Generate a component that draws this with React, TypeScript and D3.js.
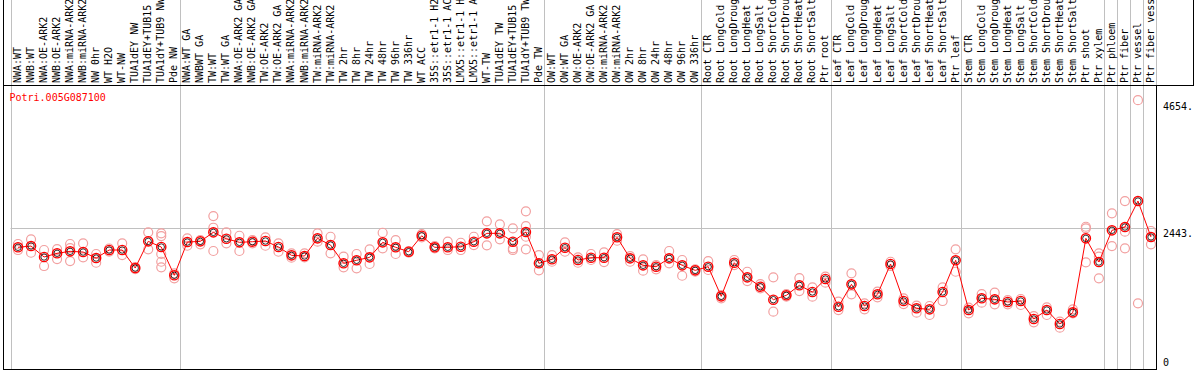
import React from "react";
import * as d3 from "d3";

const TITLE = "Potri.005G087100";

const samples: string[] = [
  "NWA:WT", "NWB:WT", "NWA:OE-ARK2", "NWB:OE-ARK2", "NWA:miRNA-ARK2", "NWB:miRNA-ARK2",
  "NW 0hr", "WT H2O", "WT-NW", "TUA1dEY NW", "TUA1dEY+TUB15 NW", "TUA1dY+TUB9 NW", "Pde NW",
  "NWA:WT GA", "NWBWT GA", "TW:WT", "TW:WT GA", "NWA:OE-ARK2 GA", "NWB:OE-ARK2 GA",
  "TW:OE-ARK2", "TW:OE-ARK2 GA", "NWA:miRNA-ARK2 GA", "NWB:miRNA-ARK2 GA", "TW:miRNA-ARK2",
  "TW:miRNA-ARK2 GA", "TW 2hr", "TW 8hr", "TW 24hr", "TW 48hr", "TW 96hr", "TW 336hr",
  "WT ACC", "35S::etr1-1 H2O", "35S::etr1-1 ACC", "LMX5::etr1-1 H2O", "LMX5::etr1-1 ACC",
  "WT-TW", "TUA1dEY TW", "TUA1dEY+TUB15 TW", "TUA1dY+TUB9 TW", "Pde TW",
  "OW:WT", "OW:WT GA", "OW:OE-ARK2", "OW:OE-ARK2 GA", "OW:miRNA-ARK2", "OW:miRNA-ARK2 GA",
  "OW 2hr", "OW 8hr", "OW 24hr", "OW 48hr", "OW 96hr", "OW 336hr",
  "Root CTR", "Root LongCold", "Root LongDrought", "Root LongHeat", "Root LongSalt",
  "Root ShortCold", "Root ShortDrought", "Root ShortHeat", "Root ShortSalt", "Ptr root",
  "Leaf CTR", "Leaf LongCold", "Leaf LongDrought", "Leaf LongHeat", "Leaf LongSalt",
  "Leaf ShortCold", "Leaf ShortDrought", "Leaf ShortHeat", "Leaf ShortSalt", "Ptr leaf",
  "Stem CTR", "Stem LongCold", "Stem LongDrought", "Stem LongHeat", "Stem LongSalt",
  "Stem ShortCold", "Stem ShortDrought", "Stem ShortHeat", "Stem ShortSalt", "Ptr shoot",
  "Ptr xylem", "Ptr phloem", "Ptr fiber", "Ptr vessel", "Ptr fiber vessel",
];

const means: number[] = [
  2107, 2129, 1939, 2003, 2037, 2025, 1921, 2060, 2060, 1748, 2210, 2112, 1622,
  2198, 2210, 2366, 2255, 2193, 2204, 2216, 2112, 1968, 1956, 2262, 2146, 1830, 1882,
  1933, 2193, 2107, 2030, 2307, 2107, 2107, 2117, 2204, 2349, 2349, 2204, 2371, 1830,
  1899, 2100, 1887, 1927, 1927, 2280, 1916, 1795, 1771, 1916, 1795, 1708,
  1771, 1258, 1840, 1587, 1425, 1200, 1276, 1449, 1333, 1558,
  1078, 1466, 1091, 1293, 1818, 1177, 1051, 1033, 1333, 1882,
  1021, 1224, 1206, 1160, 1177, 866, 1021, 779, 981, 2262, 1852,
  2401, 2458, 2908, 2285,
];

const replicates: number[][] = [
  [2164, 2060], [2245, 2013], [2060, 1783], [2077, 1904], [2164, 1869, 2094], [2176, 1933],
  [1991, 1840], [2086, 2034], [2176, 1973], [1766, 1731], [2366, 2072],
  [2349, 2302, 1991, 1857, 1760], [1657, 1570],
  [2262, 2134], [2233, 2158], [2648, 2446, 2043], [2366, 2176], [2307, 2043], [2233, 2176],
  [2280, 2134], [2176, 2030], [2003, 1927], [2003, 1933], [2349, 2204], [2290, 2003],
  [1944, 1760], [1991, 1743], [2072, 1818], [2359, 2089], [2233, 1991], [2043, 2013],
  [2337, 2280], [2129, 2089], [2204, 2060], [2186, 2060], [2290, 2146], [2557, 2141],
  [2505, 2245], [2436, 2089, 2060], [2730, 2475, 2290, 2072], [1973, 1708],
  [1973, 1857], [2193, 2030], [1933, 1840], [1991, 1887], [2020, 1852], [2337, 2221],
  [1956, 1857], [1899, 1702], [1800, 1726], [2043, 1830], [1887, 1615], [1726, 1684],
  [1869, 1714], [1281, 1224], [1887, 1800], [1684, 1523], [1471, 1397], [1587, 992],
  [1298, 1252], [1575, 1350], [1414, 1252], [1598, 1494],
  [1165, 1021], [1657, 1293], [1137, 1033], [1338, 1241], [1857, 1783], [1224, 1125],
  [1096, 975], [1091, 935], [1414, 1177], [2072, 1684],
  [1061, 964], [1298, 1148], [1321, 1120], [1194, 1120], [1212, 1108], [917, 808],
  [1068, 935], [819, 715], [1033, 964], [2463, 2436, 1847], [2003, 1944, 1570],
  [2695, 2129], [2908, 2377, 2089], [4654, 1137], [2389, 2159],
];

// group boundaries (column index where a separator line is drawn)
const separators: number[] = [0, 13, 41, 53, 63, 73, 84, 85, 86, 87];

const yTicks: number[] = [4654, 2443, 0];
const gridValues: number[] = [2443];

const W = 1194;
const H = 370;
const LEFT = 10.5;
const RIGHT = 1156.5;
const HEADER_BOTTOM = 85.5;
const PLOT_BOTTOM = 369;
const FONT = "'DejaVu Sans Mono', monospace";

export default function App() {
  const idx = samples.map((_, i) => i);
  const x = d3.scaleBand<number>().domain(idx).range([LEFT, RIGHT]).padding(0);
  const bw = x.bandwidth();
  const cx = (i: number) => (x(i) as number) + bw / 2 + 1;
  const y = d3.scaleLinear().domain([0, 4900]).range([PLOT_BOTTOM, 86]);

  const line = d3
    .line<number>()
    .x((_, i) => cx(i))
    .y((d) => y(d));

  const sepX = (k: number) => (k >= samples.length ? RIGHT : (x(k) as number));

  return (
    <svg
      width={W}
      height={H}
      style={{ position: "absolute", left: 0, top: 0, background: "#fff" }}
    >
      <rect x={0} y={0} width={W} height={H} fill="#fff" />
      {separators.map((k) => (
        <line
          key={"s" + k}
          x1={Math.round(sepX(k)) + 0.5}
          x2={Math.round(sepX(k)) + 0.5}
          y1={0}
          y2={PLOT_BOTTOM}
          stroke="#c0c0c0"
          strokeWidth={1}
        />
      ))}
      <line x1={1156.5} x2={1156.5} y1={0} y2={HEADER_BOTTOM} stroke="#c0c0c0" />
      {gridValues.map((v) => (
        <line
          key={"g" + v}
          x1={LEFT}
          x2={RIGHT}
          y1={Math.round(y(v)) + 0.5}
          y2={Math.round(y(v)) + 0.5}
          stroke="#c0c0c0"
        />
      ))}
      <line x1={3.5} x2={3.5} y1={0} y2={PLOT_BOTTOM + 0.5} stroke="#000" />
      <line x1={3} x2={1194} y1={HEADER_BOTTOM} y2={HEADER_BOTTOM} stroke="#000" />
      <line x1={1193.5} x2={1193.5} y1={0} y2={HEADER_BOTTOM} stroke="#000" />
      <line x1={RIGHT} x2={RIGHT} y1={HEADER_BOTTOM} y2={PLOT_BOTTOM + 0.5} stroke="#000" />
      <line x1={3} x2={RIGHT + 0.5} y1={PLOT_BOTTOM + 0.5} y2={PLOT_BOTTOM + 0.5} stroke="#000" />

      {samples.map((s, i) => (
        <text
          key={"l" + i}
          transform={`translate(${(x(i) as number) + bw / 2 + 4},83) rotate(-90)`}
          fontFamily={FONT}
          fontSize={10}
          fill="#000"
        >
          {s}
        </text>
      ))}

      <text x={9.5} y={101} fontFamily={FONT} fontSize={10} fill="#ff0000">
        {TITLE}
      </text>

      {yTicks.map((v) => (
        <text
          key={"t" + v}
          x={1163}
          y={Math.min(y(v) + 9.5, 366)}
          fontFamily={FONT}
          fontSize={10}
          fill="#000"
        >
          {v === 0 ? "0" : v + "."}
        </text>
      ))}

      {replicates.map((reps, i) =>
        reps.map((v, j) => (
          <circle
            key={`r${i}-${j}`}
            cx={cx(i)}
            cy={y(v)}
            r={4.5}
            fill="none"
            stroke="#f2a0a0"
            strokeWidth={1.2}
          />
        ))
      )}

      <path d={line(means) || ""} fill="none" stroke="#ff0000" strokeWidth={1} />

      {means.map((v, i) => (
        <g key={"m" + i}>
          <circle cx={cx(i)} cy={y(v)} r={4.6} fill="none" stroke="#ff0000" strokeWidth={1.4} />
          <circle cx={cx(i)} cy={y(v)} r={3.2} fill="none" stroke="#000" strokeWidth={0.8} />
        </g>
      ))}
    </svg>
  );
}
